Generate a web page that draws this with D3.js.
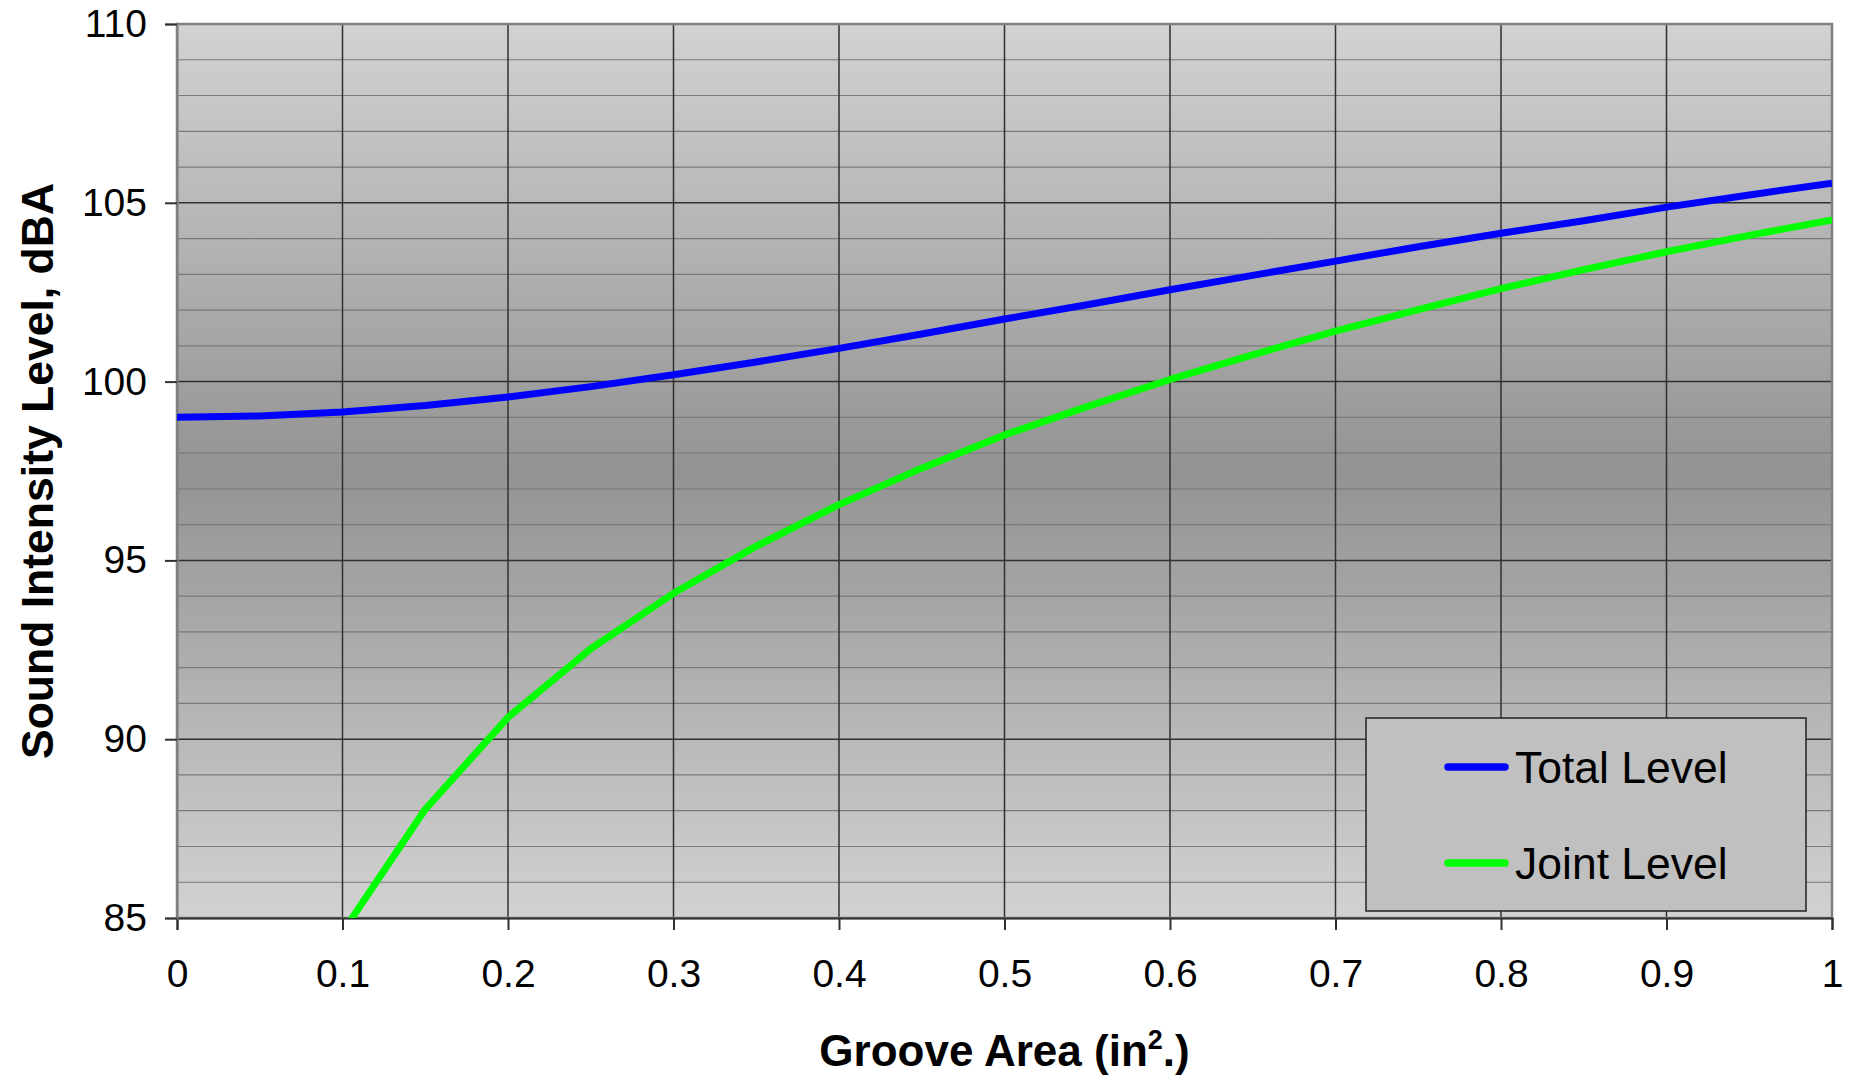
<!DOCTYPE html>
<html>
<head>
<meta charset="utf-8">
<script src="https://cdn.jsdelivr.net/npm/d3@7"></script>
<style>
  html, body { margin: 0; padding: 0; background: #ffffff; }
  svg { display: block; font-family: "Liberation Sans", Arial, sans-serif; }
</style>
</head>
<body>
<svg id="chart" width="1852" height="1077"></svg>
<script>
// Groove area (in^2) sampled every 0.05
const grooveArea = [0, 0.05, 0.1, 0.15, 0.2, 0.25, 0.3, 0.35, 0.4, 0.45, 0.5,
                    0.55, 0.6, 0.65, 0.7, 0.75, 0.8, 0.85, 0.9, 0.95, 1.0];

// Total sound intensity level, dBA
const totalLevel = [99.0, 99.04, 99.15, 99.33, 99.57, 99.86, 100.19, 100.55, 100.93, 101.33, 101.75,
                    102.15, 102.57, 102.97, 103.37, 103.77, 104.15, 104.5, 104.88, 105.22, 105.55];

// Joint contribution, dBA (first value at 0.1 in^2; lies below the axis floor)
const jointArea  = [0.1, 0.15, 0.2, 0.25, 0.3, 0.35, 0.4, 0.45, 0.5,
                    0.55, 0.6, 0.65, 0.7, 0.75, 0.8, 0.85, 0.9, 0.95, 1.0];
const jointLevel = [84.6, 88.04, 90.61, 92.53, 94.08, 95.40, 96.56, 97.58, 98.51,
                    99.30, 100.06, 100.75, 101.41, 102.01, 102.60, 103.13, 103.63, 104.09, 104.52];

const xTicks = [0, 0.1, 0.2, 0.3, 0.4, 0.5, 0.6, 0.7, 0.8, 0.9, 1];
const yTicks = [85, 90, 95, 100, 105, 110];
const yMinor = d3.range(85, 111, 1);

const seriesNames  = ["Total Level", "Joint Level"];
const seriesColors = ["#0000ff", "#00ff00"];

const svg = d3.select("#chart");
const margin = { left: 177, top: 24, right: 20, bottom: 159 };
const W = 1852 - margin.left - margin.right;
const H = 1077 - margin.top - margin.bottom;

const x = d3.scaleLinear().domain([0, 1]).range([0, W]);
const y = d3.scaleLinear().domain([85, 110]).range([H, 0]);

const defs = svg.append("defs");
const grad = defs.append("linearGradient")
  .attr("id", "plotBg").attr("x1", 0).attr("y1", 0).attr("x2", 0).attr("y2", 1);
grad.append("stop").attr("offset", "0%").attr("stop-color", "#d2d2d2");
grad.append("stop").attr("offset", "50%").attr("stop-color", "#939393");
grad.append("stop").attr("offset", "100%").attr("stop-color", "#d2d2d2");

defs.append("clipPath").attr("id", "plotClip")
  .append("rect").attr("width", W).attr("height", H);

const g = svg.append("g").attr("transform", `translate(${margin.left},${margin.top})`);

// plot background
g.append("rect").attr("width", W).attr("height", H).attr("fill", "url(#plotBg)");

// minor horizontal grid (every 1 dBA)
g.append("g").selectAll("line")
  .data(yMinor.filter(v => v % 5 !== 0))
  .join("line")
  .attr("x1", 0).attr("x2", W)
  .attr("y1", d => y(d)).attr("y2", d => y(d))
  .attr("stroke", "#7a7a7a").attr("stroke-width", 1.2);

// major horizontal grid
g.append("g").selectAll("line")
  .data(yTicks)
  .join("line")
  .attr("x1", 0).attr("x2", W)
  .attr("y1", d => y(d)).attr("y2", d => y(d))
  .attr("stroke", "#303030").attr("stroke-width", 1.5);

// vertical grid
g.append("g").selectAll("line")
  .data(xTicks)
  .join("line")
  .attr("x1", d => x(d)).attr("x2", d => x(d))
  .attr("y1", 0).attr("y2", H)
  .attr("stroke", "#303030").attr("stroke-width", 1.5);

// plot border
g.append("rect").attr("width", W).attr("height", H)
  .attr("fill", "none").attr("stroke", "#808080").attr("stroke-width", 2.5);

// axes
const xAxis = d3.axisBottom(x).tickValues(xTicks).tickSize(12).tickPadding(29)
  .tickFormat(d => d3.format("")(d));
const yAxis = d3.axisLeft(y).tickValues(yTicks).tickSize(12).tickPadding(18)
  .tickFormat(d3.format("d"));

const gx = g.append("g").attr("transform", `translate(0,${H})`).call(xAxis);
const gy = g.append("g").call(yAxis);
[gx, gy].forEach(a => {
  a.select(".domain").attr("stroke", "#303030").attr("stroke-width", 2);
  a.selectAll(".tick line").attr("stroke", "#303030").attr("stroke-width", 2);
  a.selectAll(".tick text")
    .attr("fill", "#000")
    .style("font-size", "39px")
    .style("font-family", "'Liberation Sans', Arial, sans-serif");
});
gy.select(".domain").attr("stroke", "#808080");

// series lines
const line = d3.line().x(d => x(d[0])).y(d => y(d[1]));
const lines = g.append("g").attr("clip-path", "url(#plotClip)");
lines.append("path")
  .datum(grooveArea.map((a, i) => [a, totalLevel[i]]))
  .attr("d", line).attr("fill", "none")
  .attr("stroke", seriesColors[0]).attr("stroke-width", 7)
  .attr("stroke-linejoin", "round");
lines.append("path")
  .datum(jointArea.map((a, i) => [a, jointLevel[i]]))
  .attr("d", line).attr("fill", "none")
  .attr("stroke", seriesColors[1]).attr("stroke-width", 7)
  .attr("stroke-linejoin", "round");

// legend
const legend = svg.append("g").attr("transform", "translate(1366,718)");
legend.append("rect").attr("width", 440).attr("height", 193)
  .attr("fill", "#c0c0c0").attr("stroke", "#202020").attr("stroke-width", 1.5);
const item = legend.selectAll("g.item").data(seriesNames).join("g")
  .attr("class", "item")
  .attr("transform", (d, i) => `translate(0,${49 + i * 96})`);
item.append("line")
  .attr("x1", 82).attr("x2", 139).attr("y1", 0).attr("y2", 0)
  .attr("stroke", (d, i) => seriesColors[i]).attr("stroke-width", 7.5)
  .attr("stroke-linecap", "round");
item.append("text")
  .attr("x", 149).attr("y", 0).attr("dy", "0.36em")
  .style("font-size", "44.5px").attr("fill", "#000")
  .text(d => d);

// axis titles
const xt = svg.append("text")
  .attr("x", margin.left + W / 2).attr("y", 1066)
  .attr("text-anchor", "middle")
  .style("font-size", "44px").style("font-weight", "bold");
xt.append("tspan").text("Groove Area (in");
xt.append("tspan").attr("dy", -17).style("font-size", "27px").text("2");
xt.append("tspan").attr("dy", 17).text(".)");

svg.append("text")
  .attr("transform", `translate(53,${margin.top + H / 2}) rotate(-90)`)
  .attr("text-anchor", "middle")
  .style("font-size", "44.5px").style("font-weight", "bold")
  .text("Sound Intensity Level, dBA");
</script>
</body>
</html>
